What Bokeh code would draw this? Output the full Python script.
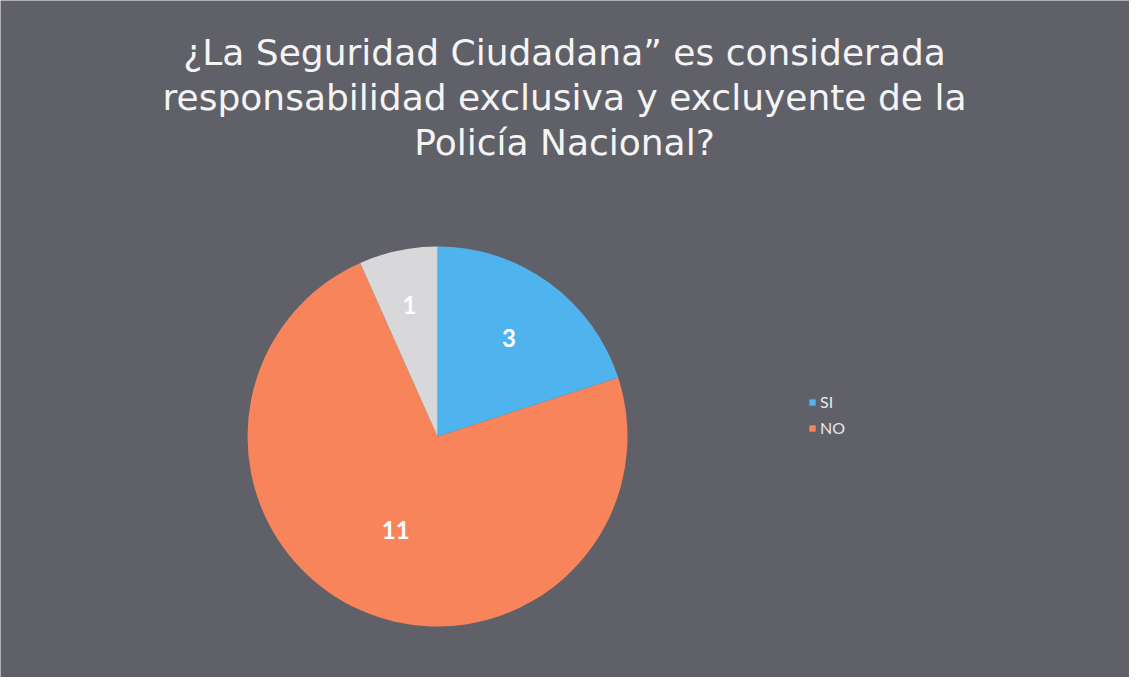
import numpy as np
from bokeh.plotting import figure
from bokeh.models import Range1d, Legend, LegendItem
from bokeh.core.properties import value
from bokeh.embed import file_html
from bokeh.resources import INLINE

# ---- data ----
categories = ["SI", "NO", ""]
counts = [3, 11, 1]
colors = ["#4fb4ee", "#f7845b", "#d8d8da"]
legend_labels = ["SI", "NO"]
title_lines = [
    "¿La Seguridad Ciudadana\u201d es considerada",
    "responsabilidad exclusiva y excluyente de la",
    "Policía Nacional?",
]

W, H = 1129, 677
BG = "#606068"

p = figure(width=W, height=H, output_backend="svg", toolbar_location=None,
           x_range=Range1d(0, W), y_range=Range1d(0, H), min_border=0,
           background_fill_color=BG, border_fill_color=BG, outline_line_color=None)
p.axis.visible = False
p.grid.visible = False

# pie geometry (screen-like data units)
cx, cy, R = 437, 241, 190
total = sum(counts)
fr = np.array(counts) / total
ends = 90 - np.cumsum(fr) * 360
starts = np.concatenate([[90], ends[:-1]])
mids = (starts + ends) / 2
renderers = []
for i in range(len(counts)):
    r = p.wedge(x=cx, y=cy, radius=R, start_angle=np.radians(starts[i]),
                end_angle=np.radians(ends[i]), direction="clock",
                fill_color=colors[i], line_color=None)
    renderers.append(r)

# data labels
label_frac = [0.64, 0.54, 0.71]
lx = [cx + R * f * np.cos(np.radians(m)) for f, m in zip(label_frac, mids)]
ly = [cy + R * f * np.sin(np.radians(m)) for f, m in zip(label_frac, mids)]
p.text(x=lx, y=ly, text=[str(c) for c in counts], text_color="#ffffff",
       text_font=value("Lato"), text_font_size="24px", text_font_style="bold",
       text_align="center", text_baseline="middle")

# title
ty = [H - 52, H - 97, H - 142]
p.text(x=[564] * 3, y=ty, text=title_lines, text_color="#f4f4f4",
       text_font=value("DejaVu Sans"), text_font_size="36px",
       text_align="center", text_baseline="middle")

legend = Legend(items=[LegendItem(label=legend_labels[i], renderers=[renderers[i]])
                       for i in range(len(legend_labels))],
                location=(808, H - 437), background_fill_alpha=0,
                border_line_color=None, label_text_color="#e8e8e8",
                label_text_font="Lato", label_text_font_size="16px",
                glyph_width=8, glyph_height=8, spacing=7, label_standoff=4,
                padding=0, margin=0)
p.add_layout(legend, "center")

open("out.html", "w").write(file_html(p, INLINE))
